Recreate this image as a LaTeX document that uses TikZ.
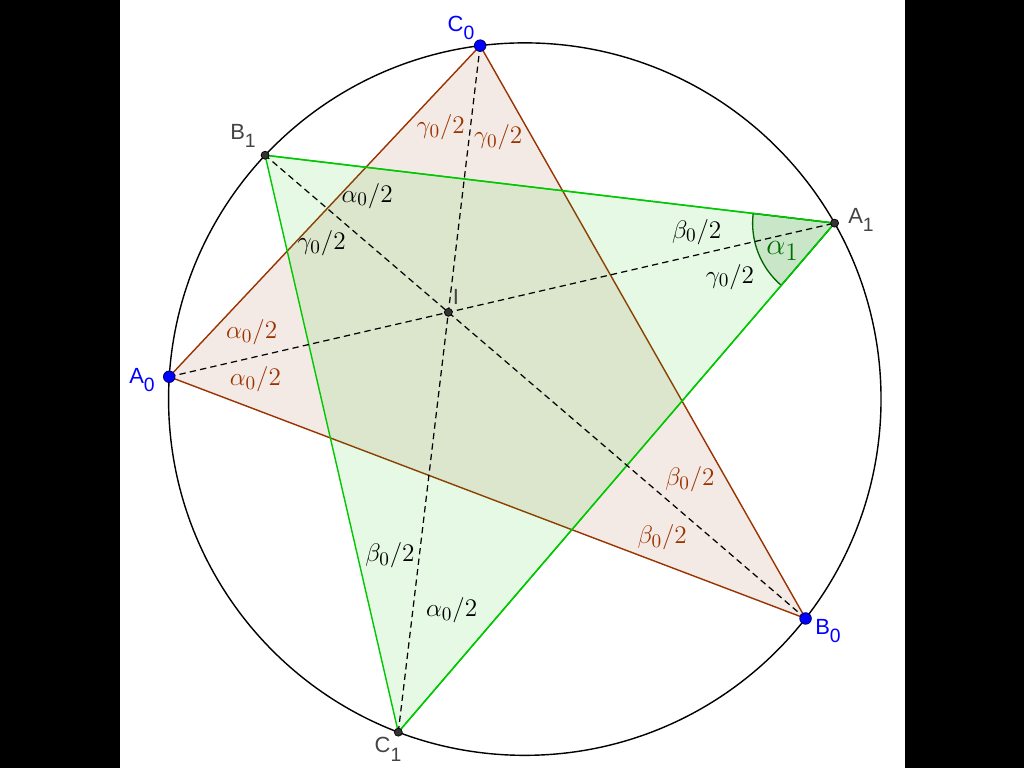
\documentclass[tikz,border=0pt]{standalone}
\usepackage{fontspec}
\newfontfamily\labelfont{Liberation Sans}
\usetikzlibrary{calc,intersections}
\definecolor{brn}{RGB}{153,51,0}
\definecolor{grn}{RGB}{0,200,0}
\definecolor{dgrn}{RGB}{0,100,0}
\definecolor{alcol}{RGB}{0,110,0}
\definecolor{ptgray}{RGB}{68,68,68}
\definecolor{ptblue}{RGB}{0,0,255}
\newcommand{\psub}[1]{\raisebox{-5pt}{\fontsize{11}{13}\selectfont #1}}
\begin{document}
\begin{tikzpicture}[x=0.02cm,y=-0.02cm,
  plabel/.style={font=\labelfont\fontsize{12.5}{14}\selectfont, inner sep=0pt},
  mlab/.style={font=\fontsize{15}{18}\selectfont, inner sep=0pt},
  bluept/.style={circle, fill=ptblue, draw={rgb,255:red,0;green,0;blue,120}, line width=0.5pt, minimum size=0.23cm, inner sep=0pt},
  graypt/.style={circle, fill={rgb,255:red,51;green,51;blue,51}, draw=black, line width=0.4pt, minimum size=0.16cm, inner sep=0pt},
  bisector/.style={draw=black, line width=0.7pt, dash pattern=on 3.6pt off 2.4pt},
  tri0/.style={draw=brn, line width=0.8pt, fill=brn, fill opacity=0.1, draw opacity=1},
  tri1/.style={draw=grn, line width=0.8pt, fill=grn, fill opacity=0.1, draw opacity=1}]
\useasboundingbox (0,0) rectangle (1024,768);
\fill[white] (0,0) rectangle (1024,768);
\fill[black] (0,0) rectangle (119.5,768);
\fill[black] (904.5,0) rectangle (1024,768);
\def\cx{524.8}\def\cy{399.1}\def\R{356.3}
\coordinate (O) at (\cx,\cy);
\coordinate (A0) at ({\cx+\R*cos(176.4)},{\cy-\R*sin(176.4)});
\coordinate (B0) at ({\cx+\R*cos(-38)},{\cy-\R*sin(-38)});
\coordinate (C0) at ({\cx+\R*cos(97.2)},{\cy-\R*sin(97.2)});
\coordinate (A1) at ({\cx+\R*cos(29.6)},{\cy-\R*sin(29.6)});
\coordinate (B1) at ({\cx+\R*cos(136.8)},{\cy-\R*sin(136.8)});
\coordinate (C1) at ({\cx+\R*cos(249.2)},{\cy-\R*sin(249.2)});
\coordinate (I) at (intersection of A0--A1 and B0--B1);
% circle
\draw[black, line width=0.8pt] (O) circle[radius=7.126cm];
% triangles
\path[tri0] (A0) -- (B0) -- (C0) -- cycle;
\path[tri1] (A1) -- (B1) -- (C1) -- cycle;
% angle sector at A1
\path let \p1=($(B1)-(A1)$), \p2=($(C1)-(A1)$),
      \n1={atan2(\y1,\x1)}, \n2={atan2(\y2,\x2)+360} in
  [fill=dgrn, fill opacity=0.12, draw=dgrn, draw opacity=1, line width=0.75pt]
  (A1) -- ++(\n1:1.64cm) arc[start angle=\n1, end angle=\n2, radius=1.64cm] -- cycle;
\draw[grn, line width=0.8pt] (A1) -- (B1) (A1) -- (C1);
% bisectors
\draw[bisector] (A0) -- (A1);
\draw[bisector] (B0) -- (B1);
\draw[bisector] (C0) -- (C1);
% points
\node[bluept] (pA0) at (A0) {};
\node[bluept] (pB0) at (B0) {};
\node[bluept] (pC0) at (C0) {};
\node[graypt] (pA1) at (A1) {};
\node[graypt] (pB1) at (B1) {};
\node[graypt] (pC1) at (C1) {};
\node[graypt] (pI) at (I) {};
% point labels
\node[plabel, text=ptblue] (lC0) at (461,28) {C\psub{0}};
\node[plabel, text=ptblue] (lA0) at (142,380) {A\psub{0}};
\node[plabel, text=ptblue] (lB0) at (828,631) {B\psub{0}};
\node[plabel, text=ptgray] (lA1) at (861,220) {A\psub{1}};
\node[plabel, text=ptgray] (lB1) at (243,136) {B\psub{1}};
\node[plabel, text=ptgray] (lC1) at (388,749) {C\psub{1}};
\node[plabel, text=ptgray] (lI) at (456,297) {I};
% angle labels of triangle 0
\node[mlab, text=brn] (g0a) at (440.8,127.5) {$\gamma_0/2$};
\node[mlab, text=brn] (g0b) at (498.3,137.5) {$\gamma_0/2$};
\node[mlab, text=brn] (a0a) at (251.7,332.5) {$\alpha_0/2$};
\node[mlab, text=brn] (a0b) at (255.5,379.2) {$\alpha_0/2$};
\node[mlab, text=brn] (b0a) at (690,479.2) {$\beta_0/2$};
\node[mlab, text=brn] (b0b) at (662.2,537.5) {$\beta_0/2$};
% angle labels of triangle 1
\node[mlab] (m1) at (367.2,195.8) {$\alpha_0/2$};
\node[mlab] (m2) at (321.7,243.3) {$\gamma_0/2$};
\node[mlab] (m3) at (696.7,231.7) {$\beta_0/2$};
\node[mlab] (m4) at (730,276.7) {$\gamma_0/2$};
\node[mlab] (m5) at (390,555) {$\beta_0/2$};
\node[mlab] (m6) at (451.7,610) {$\alpha_0/2$};
\node[font=\fontsize{19}{22}\selectfont, text=alcol, inner sep=0pt] (al1) at (782.5,250.8) {$\alpha_1$};
\end{tikzpicture}
\end{document}
